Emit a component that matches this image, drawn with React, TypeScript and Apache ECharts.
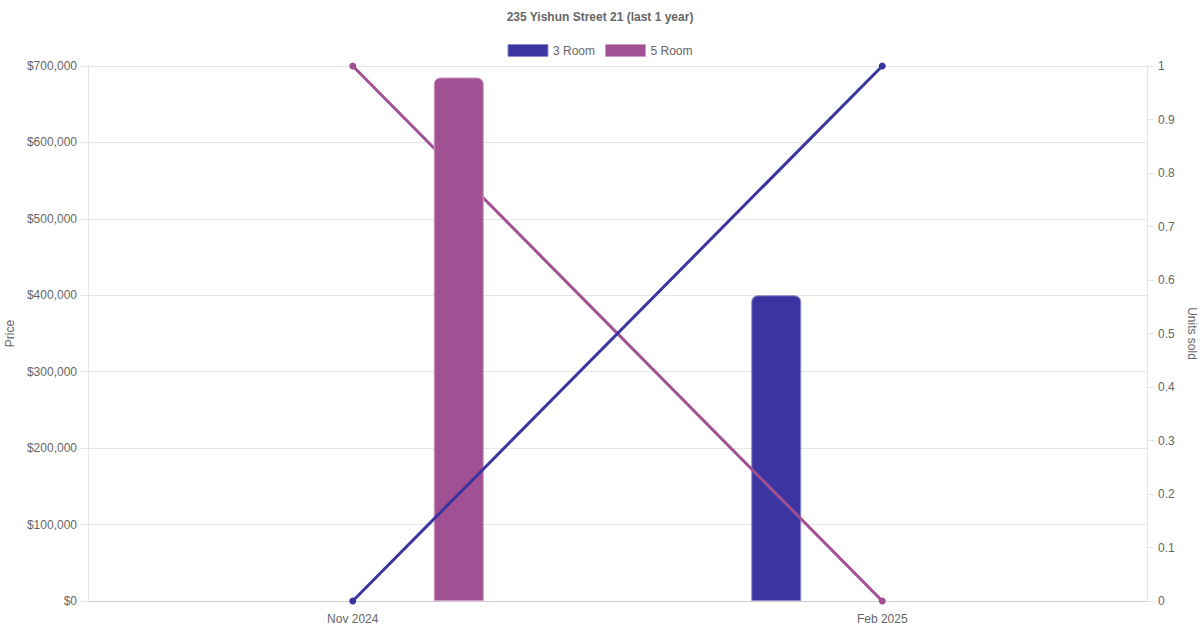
import React, { useEffect, useRef } from "react";
import * as echarts from "echarts";

const titleText = "235 Yishun Street 21 (last 1 year)";
const categories = ["Nov 2024", "Feb 2025"];
const seriesNames = ["3 Room", "5 Room"];
const price3Room: (number | null)[] = [null, 400000];
const price5Room: (number | null)[] = [685000, null];
const units3Room = [0, 1];
const units5Room = [1, 0];
const colors = ["#3a35a0", "#a05093"];
const borders = ["#8f8cd0", "#cf9ac6"];

export default function App() {
  const ref = useRef<HTMLDivElement>(null);
  useEffect(() => {
    if (!ref.current) return;
    const chart = echarts.init(ref.current, undefined, { renderer: "svg" });
    const font = "'Liberation Sans', Arial, Helvetica, sans-serif";
    const textColor = "#666";
    chart.setOption({
      animation: false,
      textStyle: { fontFamily: font },
      title: {
        text: titleText,
        left: "center",
        top: 6,
        textStyle: { fontFamily: font, fontSize: 12, fontWeight: "bold", color: textColor },
      },
      legend: {
        top: 39,
        left: "center",
        itemWidth: 40,
        itemHeight: 12,
        itemGap: 10,
        icon: "rect",
        data: seriesNames.map((n, i) => ({
          name: n,
          icon: "rect",
          itemStyle: { color: colors[i], borderColor: borders[i], borderWidth: 1 },
        })),
        textStyle: { fontFamily: font, fontSize: 12, color: textColor },
      },
      grid: { left: 88, right: 53, top: 66, bottom: 29, containLabel: false, outerBoundsMode: "none" },
      xAxis: {
        type: "category",
        data: categories,
        boundaryGap: true,
        axisLine: { show: true, lineStyle: { color: "#cccccc", width: 1 } },
        axisTick: { show: false },
        splitLine: { show: false },
        axisLabel: { color: textColor, fontSize: 12, fontFamily: font, margin: 12 },
      },
      yAxis: [
        {
          type: "value",
          position: "left",
          min: 0,
          max: 700000,
          interval: 100000,
          name: "Price",
          nameLocation: "middle",
          nameGap: 70,
          nameTextStyle: { color: textColor, fontSize: 12, fontFamily: font },
          axisLine: { show: true, lineStyle: { color: "#e5e5e5" } },
          axisTick: { show: true, length: 7, lineStyle: { color: "#e5e5e5" } },
          splitLine: { show: true, lineStyle: { color: "#e5e5e5" } },
          axisLabel: {
            color: textColor,
            fontSize: 12,
            fontFamily: font,
            margin: 11,
            formatter: (v: number) => "$" + v.toLocaleString("en-US"),
          },
        },
        {
          type: "value",
          position: "right",
          min: 0,
          max: 1,
          interval: 0.1,
          name: "Units sold",
          nameLocation: "middle",
          nameGap: 31,
          nameRotate: -90,
          nameTextStyle: { color: textColor, fontSize: 12, fontFamily: font },
          axisLine: { show: true, lineStyle: { color: "#e5e5e5" } },
          axisTick: { show: true, length: 7, lineStyle: { color: "#e5e5e5" } },
          splitLine: { show: false },
          axisLabel: {
            color: textColor,
            fontSize: 12,
            fontFamily: font,
            margin: 11,
            formatter: (v: number) => String(Math.round(v * 10) / 10),
          },
        },
      ],
      series: [
        {
          name: seriesNames[0],
          type: "bar",
          yAxisIndex: 0,
          data: price3Room,
          barWidth: 50,
          barGap: "324%",
          z: 2,
          itemStyle: { color: colors[0], borderColor: borders[0], borderWidth: 1, borderRadius: [6, 6, 0, 0] },
        },
        {
          name: seriesNames[1],
          type: "bar",
          yAxisIndex: 0,
          data: price5Room,
          barWidth: 50,
          barGap: "324%",
          z: 4,
          itemStyle: { color: colors[1], borderColor: borders[1], borderWidth: 1, borderRadius: [6, 6, 0, 0] },
        },
        {
          name: seriesNames[1],
          type: "line",
          yAxisIndex: 1,
          data: units5Room,
          z: 3,
          symbol: "circle",
          symbolSize: 7,
          lineStyle: { color: colors[1], width: 3 },
          itemStyle: { color: colors[1] },
        },
        {
          name: seriesNames[0],
          type: "line",
          yAxisIndex: 1,
          data: units3Room,
          z: 5,
          symbol: "circle",
          symbolSize: 7,
          lineStyle: { color: colors[0], width: 3 },
          itemStyle: { color: colors[0] },
        },
      ],
    });
    return () => chart.dispose();
  }, []);
  return <div ref={ref} style={{ width: 1200, height: 630, position: "absolute", left: 0, top: 0 }} />;
}
